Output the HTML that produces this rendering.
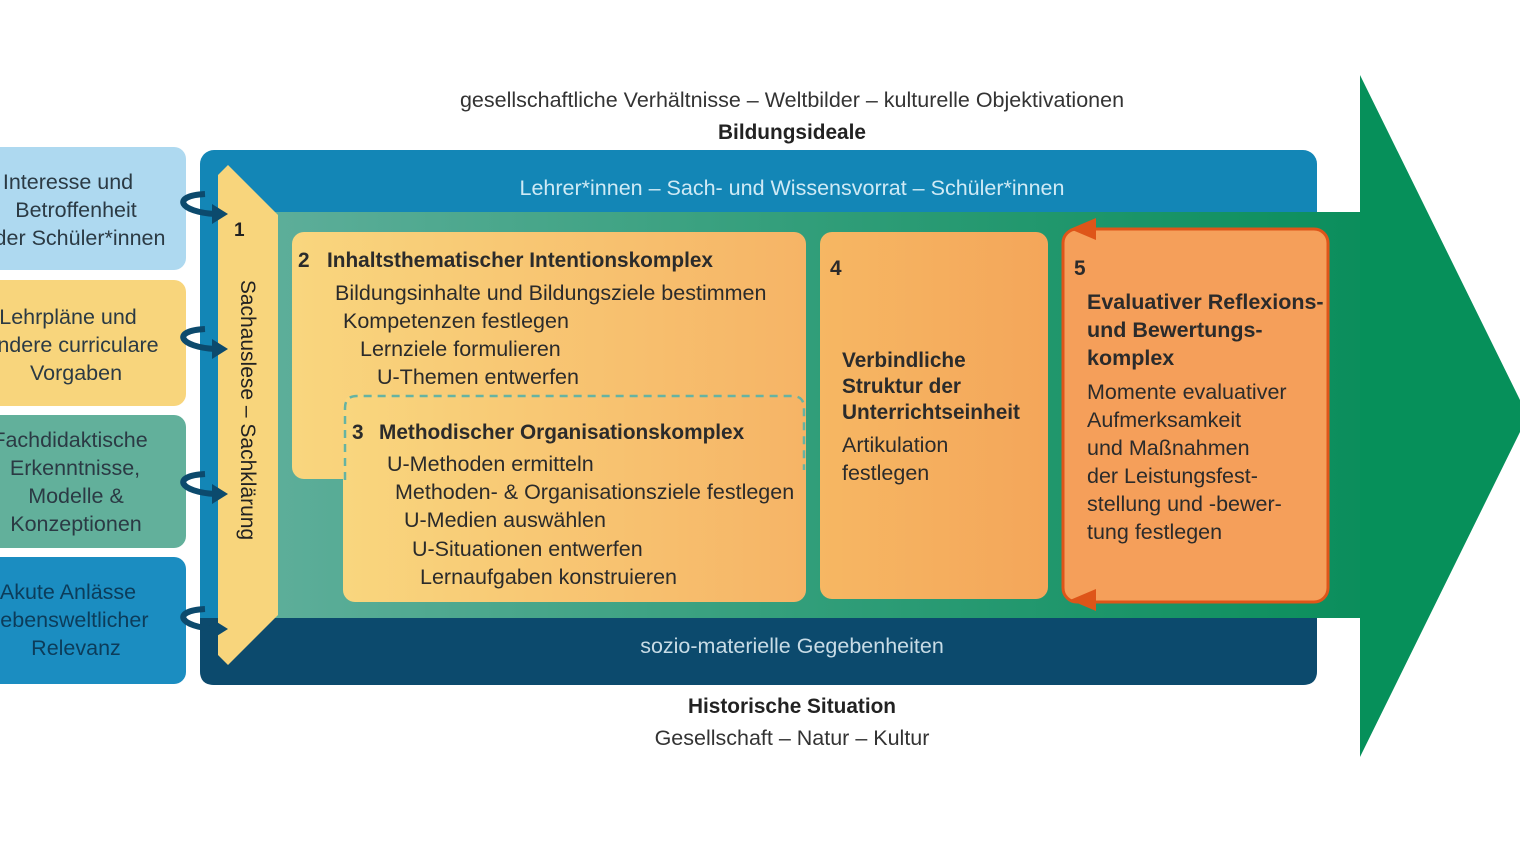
<!DOCTYPE html>
<html><head><meta charset="utf-8"><style>
html,body{margin:0;padding:0;background:#fff;}
svg{display:block;}
text{font-family:"Liberation Sans",sans-serif;}
</style></head><body>
<svg width="1520" height="855" viewBox="0 0 1520 855" xmlns="http://www.w3.org/2000/svg">
<defs>
<linearGradient id="mid" x1="0" x2="1" y1="0" y2="0">
<stop offset="0" stop-color="#63b09e"/><stop offset="0.55" stop-color="#2f9d78"/><stop offset="1" stop-color="#0b8e5c"/></linearGradient>
<linearGradient id="yo" x1="0" x2="1" y1="0" y2="0">
<stop offset="0" stop-color="#f9d67e"/><stop offset="1" stop-color="#f6b466"/></linearGradient>
<linearGradient id="o4" x1="0" x2="1" y1="0" y2="0">
<stop offset="0" stop-color="#f6b763"/><stop offset="1" stop-color="#f4a65a"/></linearGradient>
</defs>
<!-- green arrow -->
<polygon points="1300,212 1360,212 1360,75 1520,400 1520,432 1360,757 1360,618 1300,618" fill="#06905a"/>
<!-- blue frame -->
<rect x="200" y="150" width="1117" height="535" rx="14" fill="#1386b6"/>
<path d="M200,618 L1317,618 L1317,671 Q1317,685 1303,685 L214,685 Q200,685 200,671 Z" fill="#0c4a6d"/>
<rect x="200" y="212" width="1160" height="406" fill="url(#mid)"/>
<rect x="200" y="212" width="18" height="406" fill="#1386b6"/>
<!-- left boxes -->
<rect x="-20" y="147" width="206" height="123" rx="12" fill="#aed9f0"/>
<rect x="-20" y="280" width="206" height="126" rx="12" fill="#f8d57c"/>
<rect x="-20" y="415" width="206" height="133" rx="12" fill="#62b09b"/>
<rect x="-20" y="557" width="206" height="127" rx="12" fill="#1b8dc1"/>
<g font-size="21.5" fill="#2b3a44" text-anchor="middle">
<text x="68" y="189">Interesse und</text>
<text x="76" y="217">Betroffenheit</text>
<text x="80" y="245">der Schüler*innen</text>
<text x="68" y="324">Lehrpläne und</text>
<text x="72" y="352">andere curriculare</text>
<text x="76" y="380">Vorgaben</text>
<text x="70" y="447">Fachdidaktische</text>
<text x="75" y="475">Erkenntnisse,</text>
<text x="76" y="503">Modelle &amp;</text>
<text x="76" y="531">Konzeptionen</text>
<text x="68" y="599" fill="#0c3c5a">Akute Anlässe</text>
<text x="72" y="627" fill="#0c3c5a">lebensweltlicher</text>
<text x="76" y="655" fill="#0c3c5a">Relevanz</text>
</g>
<!-- column 1 -->
<polygon points="218,175 228,165 278,215 278,615 228,665 218,655" fill="#f8d57c"/>
<!-- curly arrows -->
<g fill="none" stroke="#0c4a6d" stroke-width="6">
<path d="M205,194 C170,196 180,212 215,214"/>
<path d="M205,329 C170,331 180,347 215,349"/>
<path d="M205,474 C170,476 180,492 215,494"/>
<path d="M205,609 C170,611 180,627 215,629"/>
</g>
<g fill="#0c4a6d">
<polygon points="212,204 228,214 212,224"/>
<polygon points="212,339 228,349 212,359"/>
<polygon points="212,484 228,494 212,504"/>
<polygon points="212,619 228,629 212,639"/>
</g>
<text x="234" y="236" font-size="19" font-weight="bold" fill="#222">1</text>
<text transform="translate(241,410) rotate(90)" font-size="21" fill="#222" text-anchor="middle">Sachauslese – Sachklärung</text>
<!-- box 2 & 3 -->
<rect x="292" y="232" width="514" height="247" rx="12" fill="url(#yo)"/>
<rect x="343" y="395" width="463" height="207" rx="12" fill="url(#yo)"/>
<path d="M345,480 L345,408 Q345,396 357,396 L792,396 Q804,396 804,408 L804,470" fill="none" stroke="#66b3a2" stroke-width="2.5" stroke-dasharray="8,6"/>
<g font-size="21.5" fill="#2b2b2b">
<text x="298" y="267" font-weight="bold" font-size="20.8">2</text>
<text x="327" y="267" font-weight="bold" font-size="20.8">Inhaltsthematischer Intentionskomplex</text>
<text x="335" y="300">Bildungsinhalte und Bildungsziele bestimmen</text>
<text x="343" y="328">Kompetenzen festlegen</text>
<text x="360" y="356">Lernziele formulieren</text>
<text x="377" y="384">U-Themen entwerfen</text>
<text x="352" y="439" font-weight="bold" font-size="20.8">3</text>
<text x="379" y="439" font-weight="bold" font-size="20.8">Methodischer Organisationskomplex</text>
<text x="387" y="471">U-Methoden ermitteln</text>
<text x="395" y="499">Methoden- &amp; Organisationsziele festlegen</text>
<text x="404" y="527">U-Medien auswählen</text>
<text x="412" y="556">U-Situationen entwerfen</text>
<text x="420" y="584">Lernaufgaben konstruieren</text>
</g>
<!-- box 4 -->
<rect x="820" y="232" width="228" height="367" rx="12" fill="url(#o4)"/>
<g font-size="21.5" fill="#2b2b2b">
<text x="830" y="275" font-weight="bold" font-size="20.8">4</text>
<text x="842" y="367" font-weight="bold" font-size="20.8">Verbindliche</text>
<text x="842" y="393" font-weight="bold" font-size="20.8">Struktur der</text>
<text x="842" y="419" font-weight="bold" font-size="20.8">Unterrichtseinheit</text>
<text x="842" y="452">Artikulation</text>
<text x="842" y="480">festlegen</text>
</g>
<!-- box 5 -->
<rect x="1063" y="229" width="265" height="373" rx="14" fill="#f59f5a" stroke="#de5519" stroke-width="3"/>
<polygon points="1070,229 1096,218 1096,240" fill="#de5519"/>
<polygon points="1070,600 1096,589 1096,611" fill="#de5519"/>
<g font-size="21.5" fill="#2b2b2b">
<text x="1074" y="275" font-weight="bold" font-size="20.8">5</text>
<text x="1087" y="309" font-weight="bold" font-size="21.5">Evaluativer Reflexions-</text>
<text x="1087" y="337" font-weight="bold" font-size="21.5">und Bewertungs-</text>
<text x="1087" y="365" font-weight="bold" font-size="21.5">komplex</text>
<text x="1087" y="399">Momente evaluativer</text>
<text x="1087" y="427">Aufmerksamkeit</text>
<text x="1087" y="455">und Maßnahmen</text>
<text x="1087" y="483">der Leistungsfest-</text>
<text x="1087" y="511">stellung und -bewer-</text>
<text x="1087" y="539">tung festlegen</text>
</g>
<!-- band labels -->
<text x="792" y="195" font-size="21.5" fill="#cfeaf5" text-anchor="middle">Lehrer*innen – Sach- und Wissensvorrat – Schüler*innen</text>
<text x="792" y="653" font-size="21.5" fill="#c8dce6" text-anchor="middle">sozio-materielle Gegebenheiten</text>
<!-- outer labels -->
<text x="792" y="107" font-size="21.5" fill="#333" text-anchor="middle">gesellschaftliche Verhältnisse – Weltbilder – kulturelle Objektivationen</text>
<text x="792" y="139" font-size="20.8" font-weight="bold" fill="#222" text-anchor="middle">Bildungsideale</text>
<text x="792" y="713" font-size="20.8" font-weight="bold" fill="#222" text-anchor="middle">Historische Situation</text>
<text x="792" y="745" font-size="21.5" fill="#333" text-anchor="middle">Gesellschaft – Natur – Kultur</text>
</svg>
</body></html>
